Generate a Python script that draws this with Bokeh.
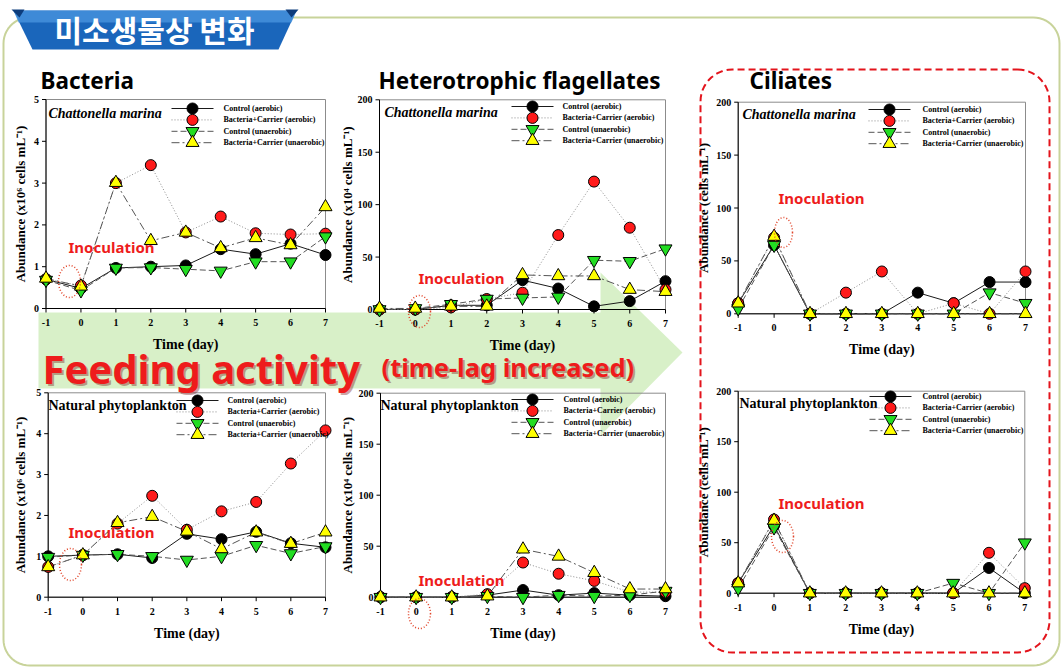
import numpy as np
from bokeh.plotting import figure
from bokeh.models import Range1d
from bokeh.core.properties import value
from bokeh.embed import file_html
from bokeh.resources import INLINE

# ---------------- data ----------------
days = [-1, 0, 1, 2, 3, 4, 5, 6, 7]
day_labels = ["-1", "0", "1", "2", "3", "4", "5", "6", "7"]
bacteria_ticks = [0, 1, 2, 3, 4, 5]
bacteria_tick_labels = ["0", "1", "2", "3", "4", "5"]
count_ticks = [0, 50, 100, 150, 200]
count_tick_labels = ["0", "50", "100", "150", "200"]

series_names = ["Control (aerobic)", "Bacteria+Carrier (aerobic)",
                "Control (unaerobic)", "Bacteria+Carrier (unaerobic)"]
group_titles = ["Bacteria", "Heterotrophic flagellates", "Ciliates"]
prey_names = ["Chattonella marina", "Natural phytoplankton"]
y_axis_labels = ["Abundance (x10\u2076 cells mL\u207b\u00b9)",
                 "Abundance (x10\u2074 cells mL\u207b\u00b9)",
                 "Abundance (cells mL\u207b\u00b9)"]
x_axis_label = "Time (day)"
banner_text = "미소생물상 변화"
note_text = "Inoculation"
arrow_text = "Feeding activity"
arrow_note = "(time-lag increased)"

# Bacteria (x10^6 cells/mL), Chattonella marina
bac_cm_ctrl_aer = [0.70, 0.48, 0.97, 1.00, 1.03, 1.42, 1.30, 1.55, 1.28]
bac_cm_bc_aer = [0.70, 0.55, 3.00, 3.43, 1.82, 2.20, 1.80, 1.77, 1.79]
bac_cm_ctrl_unaer = [0.68, 0.43, 0.97, 0.98, 0.94, 0.90, 1.12, 1.12, 1.72]
bac_cm_bc_unaer = [0.72, 0.53, 3.01, 1.62, 1.82, 1.45, 1.69, 1.52, 2.43]
# Bacteria, natural phytoplankton
bac_np_ctrl_aer = [1.00, 1.03, 1.05, 0.96, 1.55, 1.42, 1.60, 1.32, 1.22]
bac_np_bc_aer = [0.74, 1.03, 1.80, 2.48, 1.65, 2.10, 2.33, 3.27, 4.08]
bac_np_ctrl_unaer = [0.98, 1.03, 1.05, 1.00, 0.91, 1.00, 1.27, 1.07, 1.24]
bac_np_bc_unaer = [0.74, 1.03, 1.82, 1.97, 1.61, 1.18, 1.59, 1.31, 1.59]
# Heterotrophic flagellates (x10^4 cells/mL), Chattonella marina
hf_cm_ctrl_aer = [0, 0, 4, 4, 28, 20, 3, 8, 27]
hf_cm_bc_aer = [0, 0, 2, 10, 16, 71, 122, 78, 19]
hf_cm_ctrl_unaer = [0, 1, 5, 10, 11, 12, 47, 46, 58]
hf_cm_bc_unaer = [1, 1, 3, 3, 33, 32, 32, 19, 17]
# Heterotrophic flagellates, natural phytoplankton
hf_np_ctrl_aer = [0, 0, 0, 2, 7, 2, 4, 2, 1]
hf_np_bc_aer = [0, 0, 0, 3, 34, 23, 16, 5, 5]
hf_np_ctrl_unaer = [0, 0, 0, 1, 0, 2, 1, 2, 6]
hf_np_bc_unaer = [0, 0, 0, 1, 47, 40, 24, 8, 8]
# Ciliates (cells/mL), Chattonella marina
cil_cm_ctrl_aer = [10, 65, 0, 0, 0, 20, 10, 30, 30]
cil_cm_bc_aer = [10, 72, 0, 20, 40, 0, 10, 0, 40]
cil_cm_ctrl_unaer = [5, 65, 0, 0, 0, 0, 0, 20, 10]
cil_cm_bc_unaer = [10, 73, 0, 0, 0, 0, 0, 0, 0]
# Ciliates, natural phytoplankton
cil_np_ctrl_aer = [10, 67, 0, 0, 0, 0, 0, 25, 0]
cil_np_bc_aer = [10, 73, 0, 0, 0, 0, 0, 40, 5]
cil_np_ctrl_unaer = [5, 65, 0, 0, 0, 0, 10, 0, 50]
cil_np_bc_unaer = [10, 72, 0, 0, 0, 0, 0, 0, 0]

# ---------------- styles & layout ----------------
STY = [
    dict(marker="circle", fill="#000000", size=11, line="#1a1a1a", dash="solid"),
    dict(marker="circle", fill="#ff1a1a", size=11, line="#8c8c8c", dash="1 2"),
    dict(marker="inverted_triangle", fill="#22dd22", size=13, line="#555555", dash="6 3"),
    dict(marker="triangle", fill="#ffff00", size=13, line="#555555", dash="8 3 2 3"),
]
SERIF = value("Liberation Serif")
SANS = value("Noto Sans")
RED = "#ee1c1c"

def fy(y):
    return 671 - y

p = figure(width=1064, height=671, x_range=Range1d(0, 1064), y_range=Range1d(0, 671),
           x_axis_type=None, y_axis_type=None, output_backend="svg",
           toolbar_location=None, min_border=0)
p.outline_line_color = None
p.background_fill_color = "white"
p.border_fill_color = "white"


def rrect(x0, y0, x1, y1, r, n=14):
    xs, ys = [], []
    for cx, cy, a0, a1 in [(x1 - r, y0 + r, -90, 0), (x1 - r, y1 - r, 0, 90),
                           (x0 + r, y1 - r, 90, 180), (x0 + r, y0 + r, 180, 270)]:
        for a in np.radians(np.linspace(a0, a1, n)):
            xs.append(cx + r * np.cos(a))
            ys.append(fy(cy + r * np.sin(a)))
    xs.append(xs[0]); ys.append(ys[0])
    return xs, ys

# outer green rounded frame
bx, by = rrect(3, 17, 1059, 665, 26)
p.line(bx, by, line_color="#c8d39a", line_width=2)

# banner
p.patch([13, 296, 278, 32], [fy(10), fy(10), fy(49), fy(49)], fill_color="#1a66bb", line_color=None)
p.patch([13, 296, 291, 18], [fy(10), fy(10), fy(22), fy(22)], fill_color="#4b97e0", fill_alpha=0.75, line_color=None)
p.patch([11, 24, 19], [fy(9), fy(9), fy(17)], fill_color="#0c3c7c", line_color=None)
p.patch([285, 298, 291], [fy(9), fy(9), fy(17)], fill_color="#0c3c7c", line_color=None)
p.text([154], [fy(28)], text=[banner_text], text_font=value("Noto Sans CJK KR"), text_font_style="bold",
       text_font_size="30px", text_color="white", text_align="center", text_baseline="middle")

# red dashed box around ciliates
rx, ry = rrect(700, 69, 1049, 652, 32)
p.line(rx, ry, line_color="#e3141c", line_width=2, line_dash="7 4")

# arrow
ax = [38, 600, 600, 682, 600, 600, 38]
ay = [312, 312, 272, 352, 435, 388, 388]
p.patch(ax, [fy(v) for v in ay], fill_color="#d6efc5", fill_alpha=0.95, line_color=None)

# group titles
for t, tx in zip(group_titles, [40, 378, 749]):
    p.text([tx], [fy(80)], text=[t], text_font=SANS, text_font_style="bold", text_font_size="22.5px",
           text_color="black", text_baseline="middle")

PANELS = [
    dict(data=[bac_cm_ctrl_aer, bac_cm_bc_aer, bac_cm_ctrl_unaer, bac_cm_bc_unaer],
         ymax=5, ticks=bacteria_ticks, tlabels=bacteria_tick_labels, ylab=y_axis_labels[0], prey=0,
         x0=45.5, x1=325, y0=308, y1=99, ylab_x=20, sub=(48, 113), leg=(192, 223, 108),
         ino=(68, 246), ell=(69, 281, 22, 32)),
    dict(data=[hf_cm_ctrl_aer, hf_cm_bc_aer, hf_cm_ctrl_unaer, hf_cm_bc_unaer],
         ymax=200, ticks=count_ticks, tlabels=count_tick_labels, ylab=y_axis_labels[1], prey=0,
         x0=379, x1=665, y0=309, y1=99.3, ylab_x=347, sub=(384, 112), leg=(532, 562, 106),
         ino=(418, 277), ell=(419, 311, 22, 32)),
    dict(data=[cil_cm_ctrl_aer, cil_cm_bc_aer, cil_cm_ctrl_unaer, cil_cm_bc_unaer],
         ymax=200, ticks=count_ticks, tlabels=count_tick_labels, ylab=y_axis_labels[2], prey=0,
         x0=737.7, x1=1025, y0=313.3, y1=101.7, ylab_x=703, sub=(742, 114), leg=(889, 922, 109),
         ino=(778, 197), ell=(783, 232, 18, 30)),
    dict(data=[bac_np_ctrl_aer, bac_np_bc_aer, bac_np_ctrl_unaer, bac_np_bc_unaer],
         ymax=5, ticks=bacteria_ticks, tlabels=bacteria_tick_labels, ylab=y_axis_labels[0], prey=1,
         x0=47.7, x1=325, y0=596.7, y1=392.3, ylab_x=20, sub=(48, 405), leg=(197, 227, 400),
         ino=(68, 531), ell=(70, 564, 22, 32)),
    dict(data=[hf_np_ctrl_aer, hf_np_bc_aer, hf_np_ctrl_unaer, hf_np_bc_unaer],
         ymax=200, ticks=count_ticks, tlabels=count_tick_labels, ylab=y_axis_labels[1], prey=1,
         x0=380, x1=665, y0=596.7, y1=392.7, ylab_x=347, sub=(380, 405), leg=(532, 563, 399),
         ino=(418, 579), ell=(419, 613, 22, 30)),
    dict(data=[cil_np_ctrl_aer, cil_np_bc_aer, cil_np_ctrl_unaer, cil_np_bc_unaer],
         ymax=200, ticks=count_ticks, tlabels=count_tick_labels, ylab=y_axis_labels[2], prey=1,
         x0=737.7, x1=1024.3, y0=592.7, y1=390.7, ylab_x=703, sub=(739, 403), leg=(890, 922, 396),
         ino=(778, 502), ell=(782, 536, 22, 32)),
]

for P in PANELS:
    ymax = P["ymax"]
    sp = p.subplot(x_source=Range1d(days[0], days[-1]), y_source=Range1d(0, ymax),
                   x_target=Range1d(P["x0"], P["x1"]), y_target=Range1d(fy(P["y0"]), fy(P["y1"])))
    sx = (P["x1"] - P["x0"]) / (days[-1] - days[0])
    sy = (P["y0"] - P["y1"]) / ymax
    # frame + axes
    sp.quad(left=[days[0]], right=[days[-1]], bottom=[0], top=[ymax], fill_color=None,
            line_color="#8c8c8c", line_width=1)
    sp.segment(x0=[days[0], days[0]], y0=[0, 0], x1=[days[0], days[-1]], y1=[ymax, 0],
               line_color="black", line_width=1)
    sp.segment(x0=days, y0=[0] * len(days), x1=days, y1=[-4 / sy] * len(days), line_color="black")
    nt = len(P["ticks"])
    sp.segment(x0=[days[0]] * nt, y0=P["ticks"], x1=[days[0] - 4 / sx] * nt, y1=P["ticks"], line_color="black")
    sp.text(x=days, y=[0] * len(days), text=day_labels, y_offset=14, text_align="center",
            text_baseline="middle", text_font=SERIF, text_font_style="bold", text_font_size="10px")
    sp.text(x=[days[0]] * nt, y=P["ticks"], text=P["tlabels"], x_offset=-7, text_align="right",
            text_baseline="middle", text_font=SERIF, text_font_style="bold", text_font_size="10px")
    sp.text(x=[(days[0] + days[-1]) / 2], y=[0], text=[x_axis_label], y_offset=36, text_align="center",
            text_baseline="middle", text_font=SERIF, text_font_style="bold", text_font_size="14px")
    # y label
    p.text([P["ylab_x"]], [fy((P["y0"] + P["y1"]) / 2)], text=[P["ylab"]], angle=np.pi / 2,
           text_align="center", text_baseline="middle", text_font=SERIF, text_font_style="bold",
           text_font_size="13px")
    # series
    for vals, st in zip(P["data"], STY):
        sp.line(days, vals, line_color=st["line"], line_dash=st["dash"], line_width=1)
    for vals, st in zip(P["data"], STY):
        sp.scatter(days, vals, marker=st["marker"], size=st["size"], fill_color=st["fill"],
                   line_color="black", line_width=1)
    # prey label
    prey = prey_names[P["prey"]]
    p.text([P["sub"][0]], [fy(P["sub"][1])], text=[prey], text_font=SERIF,
           text_font_style="bold italic" if P["prey"] == 0 else "bold",
           text_font_size="14px", text_baseline="middle")
    # legend
    mx, tx, ly = P["leg"]
    for k, (nm, st) in enumerate(zip(series_names, STY)):
        yy = fy(ly + k * 11.4)
        p.line([mx - 21, mx + 21], [yy, yy], line_color=st["line"], line_dash=st["dash"], line_width=1)
        p.scatter([mx], [yy], marker=st["marker"], size=st["size"], fill_color=st["fill"],
                  line_color="black", line_width=1)
        p.text([tx], [yy], text=[nm], text_font=SERIF, text_font_style="bold", text_font_size="8px",
               text_baseline="middle")
    # inoculation mark
    ex, ey, ew, eh = P["ell"]
    p.ellipse([ex], [fy(ey)], width=ew, height=eh, fill_color=None, line_color="#e0452a",
              line_width=1.5, line_dash="1 2")
    p.text([P["ino"][0]], [fy(P["ino"][1])], text=[note_text], text_font=SANS, text_font_style="bold",
           text_font_size="15px", text_color=RED, text_baseline="middle")

# arrow texts with a faint shadow
for dx, col, al in [(2, "#6a0000", 0.35), (0, RED, 1.0)]:
    p.text([42 + dx], [fy(368 + dx)], text=[arrow_text], text_font=SANS, text_font_style="bold",
           text_font_size="40px", text_color=col, text_alpha=al, text_baseline="alphabetic")
    p.text([381 + dx], [fy(366 + dx)], text=[arrow_note], text_font=SANS, text_font_style="bold",
           text_font_size="25.5px", text_color=col, text_alpha=al, text_baseline="alphabetic")

open("out.html", "w").write(file_html(p, INLINE))
